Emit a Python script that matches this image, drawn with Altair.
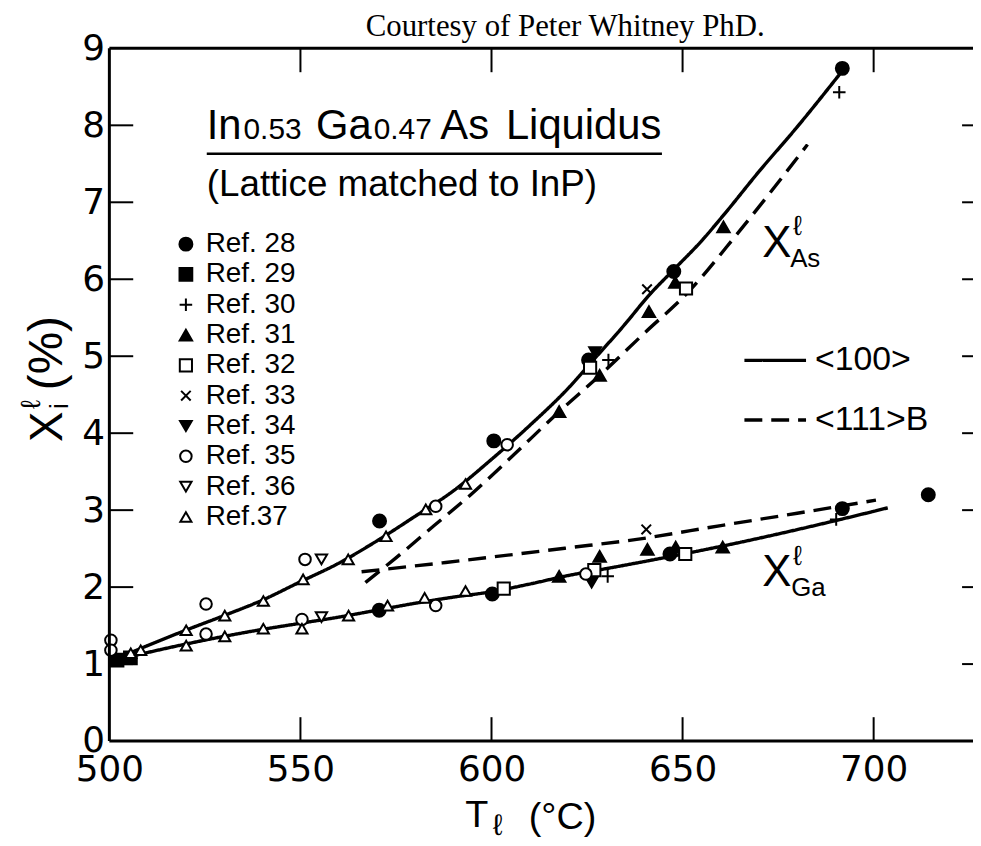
import altair as alt
import pandas as pd

# ---------------- data ----------------
x_tick_values = [500, 550, 600, 650, 700]
y_tick_values = [0, 1, 2, 3, 4, 5, 6, 7, 8, 9]
inner_x_ticks = [550, 600, 650, 700]
inner_y_ticks = [1, 2, 3, 4, 5, 6, 7, 8]

refs = ["Ref. 28", "Ref. 29", "Ref. 30", "Ref. 31", "Ref. 32",
        "Ref. 33", "Ref. 34", "Ref. 35", "Ref. 36", "Ref.37"]
PLUS = "M-1,0L1,0M0,-1L0,1"
XMARK = "M-0.8,-0.8L0.8,0.8M-0.8,0.8L0.8,-0.8"
ref_shapes = ["circle", "square", PLUS, "triangle-up", "square",
              XMARK, "triangle-down", "circle", "triangle-down", "triangle-up"]
ref_fills = ["black", "black", "white", "black", "white",
             "white", "black", "white", "white", "white"]
ref_sizes = [170, 125, 140, 220, 125, 120, 220, 140, 220, 220]

ref28_T = [570.7, 600.6, 625.4, 647.7, 691.8, 570.6, 600.2, 646.7, 691.8, 714.3]
ref28_X = [2.86, 3.90, 4.95, 6.10, 8.74, 1.70, 1.91, 2.43, 3.02, 3.20]
ref29_T = [502.0, 505.5]
ref29_X = [1.05, 1.08]
ref30_T = [691.0, 630.6, 630.4, 690.2]
ref30_X = [8.43, 4.95, 2.14, 2.88]
ref31_T = [617.7, 628.3, 641.2, 648.1, 660.7, 617.7, 628.3, 640.8, 648.2, 660.5]
ref31_X = [4.28, 4.75, 5.58, 5.96, 6.68, 2.14, 2.40, 2.49, 2.52, 2.52]
ref32_T = [603.2, 626.9, 650.7, 650.9, 625.8]
ref32_X = [1.98, 2.22, 2.43, 5.88, 4.85]
ref33_T = [640.7, 640.5]
ref33_X = [5.87, 2.75]
ref34_T = [627.1, 626.2]
ref34_X = [5.05, 2.06]
ref35_T = [500.4, 500.4, 525.3, 525.3, 551.2, 550.4, 585.4, 585.4, 604.1, 624.7]
ref35_X = [1.31, 1.18, 1.78, 1.39, 2.36, 1.58, 3.05, 1.76, 3.85, 2.17]
ref36_T = [555.5, 555.5]
ref36_X = [2.36, 1.61]
ref37_T = [505.6, 508.2, 520.1, 530.2, 540.3, 550.7, 562.5, 572.4, 582.8, 593.2,
           520.1, 530.2, 540.3, 550.4, 562.6, 572.8, 582.5, 593.2]
ref37_X = [1.14, 1.18, 1.44, 1.63, 1.82, 2.10, 2.36, 2.66, 3.01, 3.34,
           1.24, 1.36, 1.46, 1.46, 1.63, 1.76, 1.86, 1.95]

ref_T = [ref28_T, ref29_T, ref30_T, ref31_T, ref32_T, ref33_T, ref34_T, ref35_T, ref36_T, ref37_T]
ref_X = [ref28_X, ref29_X, ref30_X, ref31_X, ref32_X, ref33_X, ref34_X, ref35_X, ref36_X, ref37_X]

cuts = ["<100>", "<111>B"]
as100_T = [500, 510, 520, 530, 540, 550, 560, 570, 580, 590, 600, 610, 620, 627, 635, 641, 648, 655, 661, 670, 680, 692]
as100_X = [1.03, 1.24, 1.44, 1.63, 1.83, 2.07, 2.31, 2.60, 2.92, 3.25, 3.66, 4.10, 4.58, 4.97, 5.42, 5.78, 6.14, 6.50, 6.85, 7.40, 7.98, 8.72]
as111_T = [567, 575, 585, 595, 605, 617.7, 628.3, 640, 651.8, 664.3, 682.7]
as111_X = [2.06, 2.38, 2.80, 3.22, 3.68, 4.28, 4.75, 5.30, 5.85, 6.59, 7.75]
ga100_T = [500, 510, 520, 530, 540, 550, 560, 570, 580, 590, 600, 610, 620, 630, 645, 663, 688, 703.7]
ga100_X = [1.03, 1.15, 1.26, 1.36, 1.45, 1.53, 1.61, 1.70, 1.79, 1.87, 1.94, 2.04, 2.15, 2.24, 2.38, 2.56, 2.84, 3.03]
ga111_T = [566, 588, 600, 620, 638, 660, 680, 700.6]
ga111_X = [2.20, 2.32, 2.39, 2.51, 2.62, 2.80, 2.96, 3.13]

# ---------------- tables ----------------
pt_rows = []
for name, Ts, Xs in zip(refs, ref_T, ref_X):
    for t, v in zip(Ts, Xs):
        pt_rows.append({"T": t, "X": v, "ref": name})
pts = pd.DataFrame(pt_rows)

cv_rows = []
for cid, cut, Ts, Xs in [("As100", cuts[0], as100_T, as100_X), ("As111", cuts[1], as111_T, as111_X),
                         ("Ga100", cuts[0], ga100_T, ga100_X), ("Ga111", cuts[1], ga111_T, ga111_X)]:
    for t, v in zip(Ts, Xs):
        cv_rows.append({"T": t, "X": v, "curve": cid, "cut": cut})
curves = pd.DataFrame(cv_rows)

# ---------------- layout ----------------
W, H = 869, 697
TL = 24
xs = alt.Scale(domain=[500, 726.0], nice=False, zero=False)
ys = alt.Scale(domain=[0, 9], nice=False, zero=False)
ax_x = alt.Axis(values=x_tick_values, ticks=False, domain=False, grid=False, title=None,
                labelFont="DejaVu Sans", labelFontSize=36, labelColor="black",
                labelPadding=12, labelFlush=False)
ax_y = alt.Axis(values=y_tick_values, ticks=False, domain=False, grid=False, title=None,
                labelFont="DejaVu Sans", labelFontSize=36, labelColor="black",
                labelPadding=5, labelFlush=False)
X = alt.X("T:Q", scale=xs, axis=ax_x)
Y = alt.Y("X:Q", scale=ys, axis=ax_y)

ref_legend = alt.Legend(orient="none", legendX=63, legendY=183, title=None,
                        labelFont="Liberation Sans", labelFontSize=28, labelColor="black",
                        symbolStrokeWidth=2, symbolStrokeColor="black",
                        rowPadding=2.5, labelOffset=6, padding=0)

points = alt.Chart(pts).mark_point(filled=True, strokeWidth=2, opacity=1).encode(
    x=X, y=Y,
    shape=alt.Shape("ref:N", scale=alt.Scale(domain=refs, range=ref_shapes), legend=ref_legend),
    fill=alt.Fill("ref:N", scale=alt.Scale(domain=refs, range=ref_fills), legend=ref_legend),
    stroke=alt.Stroke("ref:N", scale=alt.Scale(domain=refs, range=["black"] * len(refs)), legend=ref_legend),
    size=alt.Size("ref:N", scale=alt.Scale(domain=refs, range=ref_sizes), legend=ref_legend),
)

lines = alt.Chart(curves).mark_line(color="black", strokeWidth=3.4, interpolate="monotone").encode(
    x=X, y=Y, detail="curve:N",
    strokeDash=alt.StrokeDash("cut:N", scale=alt.Scale(domain=cuts, range=[[1, 0], [18, 9]]),
                              legend=alt.Legend(orient="none", legendX=637, legendY=281, title=None,
                                                labelFont="Liberation Sans", labelFontSize=34,
                                                labelColor="black", symbolType="stroke",
                                                symbolSize=3844, symbolStrokeWidth=3.4,
                                                symbolStrokeColor="black", rowPadding=10,
                                                labelOffset=7, padding=0)),
)

tx = pd.DataFrame({"T": inner_x_ticks})
ty = pd.DataFrame({"X": inner_y_ticks})
tick_top = alt.Chart(tx).mark_rule(color="black", strokeWidth=2).encode(x=X, y=alt.value(0), y2=alt.value(TL))
tick_bot = alt.Chart(tx).mark_rule(color="black", strokeWidth=2).encode(x=X, y=alt.value(H - TL), y2=alt.value(H))
tick_left = alt.Chart(ty).mark_rule(color="black", strokeWidth=2).encode(y=Y, x=alt.value(0), x2=alt.value(TL))
tick_right = alt.Chart(ty).mark_rule(color="black", strokeWidth=2).encode(y=Y, x=alt.value(W - 11), x2=alt.value(W))

one = pd.DataFrame({"a": [0]})
frame_top = alt.Chart(one).mark_rule(color="black", strokeWidth=3).encode(x=alt.value(0), x2=alt.value(W), y=alt.value(0))
frame_bot = alt.Chart(one).mark_rule(color="black", strokeWidth=3).encode(x=alt.value(0), x2=alt.value(W), y=alt.value(H))
frame_left = alt.Chart(one).mark_rule(color="black", strokeWidth=3).encode(x=alt.value(0), y=alt.value(0), y2=alt.value(H))
underline = alt.Chart(one).mark_rule(color="black", strokeWidth=2.5).encode(x=alt.value(98), x2=alt.value(556), y=alt.value(106))


def txt(s, x, y, size, font="Liberation Sans", angle=0):
    return alt.Chart(one).mark_text(fontSize=size, font=font, angle=angle, align="left",
                                    baseline="alphabetic", color="black").encode(
        text=alt.value(s), x=alt.value(x), y=alt.value(y))


texts = [
    txt("Courtesy of Peter Whitney PhD.", 258, -12, 31, font="Liberation Serif"),
    txt("In", 98, 91, 42),
    txt("0.53", 135, 91, 30),
    txt("Ga", 208, 91, 42),
    txt("0.47", 266, 91, 30),
    txt("As", 333, 91, 42),
    txt("Liquidus", 399, 91, 42),
    txt("(Lattice matched to InP)", 98, 149, 37),
    # curve labels
    txt("X", 657, 210, 44),
    txt("ℓ", 688, 188, 28),
    txt("As", 685, 220, 26),
    txt("X", 657, 541, 44),
    txt("ℓ", 688, 520, 28),
    txt("Ga", 686, 551, 26),
    # x title
    txt("T", 358, 783, 38),
    txt("ℓ", 386, 792, 30),
    txt("(°C)", 422, 786, 38),
    # y title (rotated)
    txt("X", -48, 396, 46, angle=270),
    txt("ℓ", -70, 363, 28, angle=270),
    txt("i", -42, 363, 26, angle=270),
    txt("(%)", -48, 344, 48, angle=270),
]

chart = alt.layer(
    lines, points, tick_top, tick_bot, tick_left, tick_right,
    frame_top, frame_bot, frame_left, underline, *texts
).properties(
    width=W, height=H,
    autosize=alt.AutoSizeParams(type="none"),
    padding={"left": 102, "top": 38, "right": 0, "bottom": 103},
    background="white",
).configure_view(stroke="transparent")

chart.save("out.html", embed_options={"renderer": "svg", "actions": False})
